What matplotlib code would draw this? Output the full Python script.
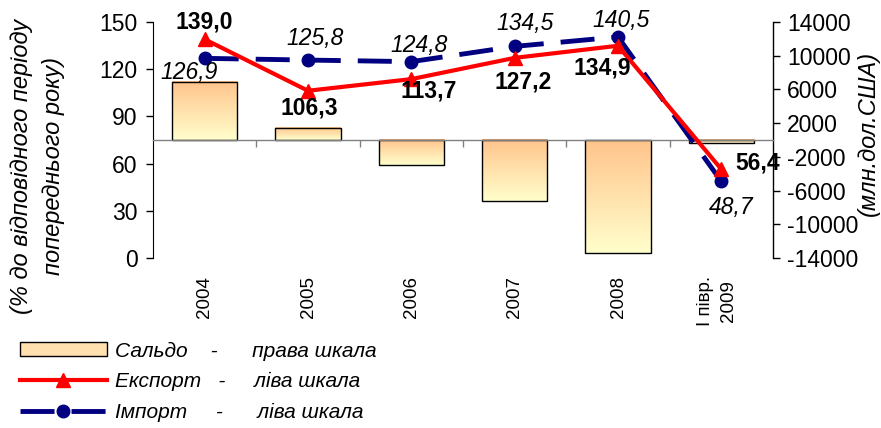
import numpy as np
import matplotlib
matplotlib.use('Agg')
import matplotlib.pyplot as plt
from matplotlib.patches import Patch
from matplotlib.lines import Line2D
from matplotlib.colors import LinearSegmentedColormap

plt.rcParams['font.family'] = ['Liberation Sans', 'DejaVu Sans']
plt.rcParams['axes.unicode_minus'] = False

# ---- data ----
categories = ['2004', '2005', '2006', '2007', '2008', 'І півр.\n2009']
saldo = [6900, 1440, -2980, -7240, -13350, -410]          # right scale, mln USD
export = [139.0, 106.3, 113.7, 127.2, 134.9, 56.4]         # left scale, %
imports = [126.9, 125.8, 124.8, 134.5, 140.5, 48.7]        # left scale, %
left_ticks = [0, 30, 60, 90, 120, 150]
right_ticks = [-14000, -10000, -6000, -2000, 2000, 6000, 10000, 14000]

# label offsets in pixels (dx, dy up)
export_off = [(0, 17), (1, -17), (17, -12), (8, -24), (-16, -22), (36, 6)]
import_off = [(-16, -14), (7, 22), (8, 16), (10, 23), (3, 16), (10, -26)]

W, H = 881, 428
fig = plt.figure(figsize=(W / 100, H / 100), dpi=100)
ax = fig.add_axes([153 / W, 1 - 258 / H, 620 / W, 236 / H])
ax2 = ax.twinx()
ax.set_zorder(ax2.get_zorder() + 1)
ax.patch.set_visible(False)

n = len(categories)
x = np.arange(n)
L0, L1 = left_ticks[0], left_ticks[-1]
R0, R1 = right_ticks[0], right_ticks[-1]

# ---- bars with gradient (right scale) ----
bars = ax2.bar(x, saldo, width=0.63, facecolor='none', edgecolor='black',
               linewidth=1.0, zorder=3)
cmap = LinearSegmentedColormap.from_list('g', ['#FFFFCC', '#FFC48C'])
grad = np.linspace(1, 0, 256).reshape(-1, 1)
for b in bars:
    x0, y0 = b.get_x(), b.get_y()
    w, h = b.get_width(), b.get_height()
    ymin, ymax = min(y0, y0 + h), max(y0, y0 + h)
    ax2.imshow(grad, cmap=cmap, vmin=0, vmax=1, aspect='auto',
               extent=(x0, x0 + w, ymin, ymax), origin='upper', zorder=2,
               interpolation='bicubic')

ax2.set_ylim(R0, R1)
ax2.set_yticks(right_ticks)
ax2.set_yticklabels([str(t) for t in right_ticks])
ax2.tick_params(axis='y', direction='out', length=5, width=1, pad=5,
                labelsize=16.5, colors='black')
for s in ['top', 'left', 'bottom']:
    ax2.spines[s].set_visible(False)
ax2.spines['right'].set_linewidth(1)

# ---- lines (left scale) ----
ax.plot(x, imports, color='#000080', lw=3.5, dashes=(7, 3.5), marker='o',
        ms=9, zorder=3)
ax.plot(x, export, color='#FF0000', lw=3, marker='^', ms=10, zorder=4)

fmt = lambda v: f"{v:.1f}".replace('.', ',')
for xi, v, (dx, dy) in zip(x, export, export_off):
    ax.annotate(fmt(v), (xi, v), xytext=(dx, dy), textcoords='offset pixels',
                ha='center', va='center', fontsize=16.5, fontweight='bold',
                zorder=6)
for xi, v, (dx, dy) in zip(x, imports, import_off):
    ax.annotate(fmt(v), (xi, v), xytext=(dx, dy), textcoords='offset pixels',
                ha='center', va='center', fontsize=16.5, fontstyle='italic',
                zorder=6)

ax.set_ylim(L0, L1)
ax.set_xlim(-0.5, n - 0.5)
ax.set_yticks(left_ticks)
ax.tick_params(axis='y', direction='out', length=5, width=1, pad=6,
               labelsize=16.5)
ax.spines['top'].set_visible(False)
ax.spines['right'].set_visible(False)
zero_left = L0 + (0 - R0) / (R1 - R0) * (L1 - L0)
ax.spines['bottom'].set_position(('data', zero_left))
ax.spines['bottom'].set_color('#808080')
ax.spines['bottom'].set_linewidth(1)
ax.set_xticks(x[:-1] + 0.5)
ax.set_xticklabels([])
ax.tick_params(axis='x', direction='out', length=5, width=1, color='#808080')

for xi, c in zip(x, categories):
    ax.text(xi - (0.04 if '\n' in c else 0), -0.075, c,
            transform=ax.get_xaxis_transform(), rotation=90,
            ha='center', va='top', fontsize=13.5, multialignment='center',
            linespacing=1.45)

# ---- axis titles ----
fig.text(38 / W, 1 - 166 / H, '(% до відповідного періоду\nпопереднього року)',
         rotation=90, ha='center', va='center', fontsize=17, fontstyle='italic',
         linespacing=1.5, multialignment='center')
fig.text(868 / W, 1 - 133 / H, '(млн.дол.США)', rotation=90, ha='center',
         va='center', fontsize=17, fontstyle='italic')

# ---- legend ----
handles = [
    Patch(facecolor='#FFE0AE', edgecolor='black', linewidth=1),
    Line2D([], [], color='#FF0000', lw=3, marker='^', ms=10),
    Line2D([], [], color='#000080', lw=3.5, dashes=(7, 3.5), marker='o', ms=9),
]
labels = ['Сальдо    -      права шкала',
          'Експорт   -     ліва шкала',
          'Імпорт     -      ліва шкала']
leg = fig.legend(handles, labels, loc='upper left',
                 bbox_to_anchor=(5 / W, 1 - 327 / H), frameon=False,
                 prop={'size': 15, 'style': 'italic'}, handlelength=4.2,
                 handleheight=0.65, handletextpad=0.4, labelspacing=0.55,
                 borderpad=0.2)

fig.savefig('out.png', dpi=100)
